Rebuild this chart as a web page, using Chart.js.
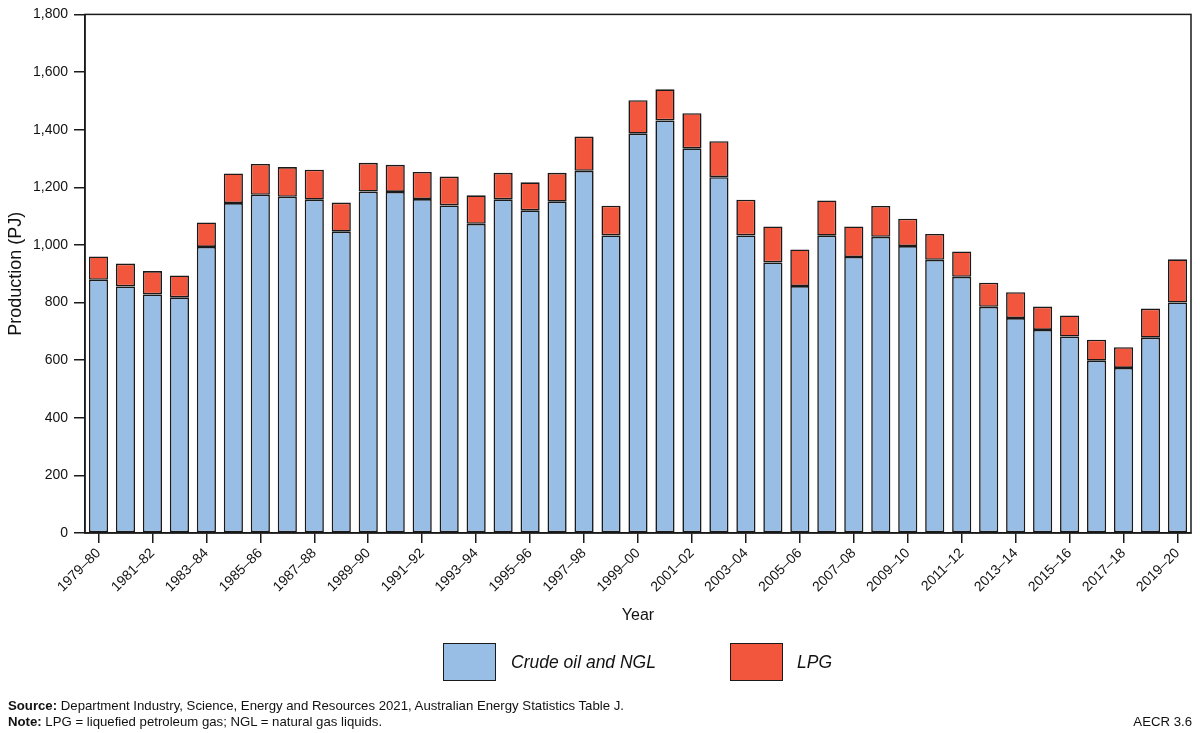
<!DOCTYPE html>
<html>
	<head>
		<title>Crude oil, NGL and LPG production</title>
		<meta charset="UTF-8">
		<script src="https://cdn.jsdelivr.net/npm/chart.js"></script>
		<style>
			body { margin: 0; background: #fff; font-family: "Liberation Sans", Arial, sans-serif; color: #111; }
			#wrap { position: relative; width: 1200px; height: 733px; }
			#legend .box { position: absolute; width: 51px; height: 36px; border: 1.5px solid #1a1a1a; }
			#legend .txt { position: absolute; font-style: italic; font-size: 17.5px; line-height: 20px; }
			.foot { position: absolute; font-size: 13.2px; line-height: 15px; }
		</style>
	</head>
	<body>
		<div id="wrap">
			<canvas id="myChart" width="1200" height="733"></canvas>
			<div id="legend"></div>
			<div class="foot" style="left:8px; top:698px;"><b>Source:</b> Department Industry, Science, Energy and Resources 2021, Australian Energy Statistics Table J.</div>
			<div class="foot" style="left:8px; top:714px;"><b>Note:</b> LPG = liquefied petroleum gas; NGL = natural gas liquids.</div>
			<div class="foot" style="right:8px; top:714px;">AECR 3.6</div>
		</div>
		<script>
			const years = ['1979–80', '1980–81', '1981–82', '1982–83', '1983–84', '1984–85', '1985–86', '1986–87', '1987–88', '1988–89',
				'1989–90', '1990–91', '1991–92', '1992–93', '1993–94', '1994–95', '1995–96', '1996–97', '1997–98', '1998–99',
				'1999–00', '2000–01', '2001–02', '2002–03', '2003–04', '2004–05', '2005–06', '2006–07', '2007–08', '2008–09',
				'2009–10', '2010–11', '2011–12', '2012–13', '2013–14', '2014–15', '2015–16', '2016–17', '2017–18', '2018–19', '2019–20'];

			// PJ
			const crudeOil = [879, 856, 828, 818, 993, 1145, 1174, 1167, 1157, 1046,
				1185, 1184, 1159, 1137, 1073, 1158, 1120, 1150, 1257, 1033,
				1386, 1432, 1335, 1235, 1033, 939, 857, 1032, 958, 1028,
				996, 948, 889, 785, 746, 705, 682, 598, 573, 678, 800];
			const lpg = [81, 79, 81, 76, 85, 103, 107, 103, 104, 101,
				100, 94, 94, 100, 99, 92, 97, 100, 119, 103,
				116, 108, 122, 125, 124, 125, 127, 122, 106, 107,
				95, 90, 88, 84, 90, 81, 73, 73, 72, 101, 150];

			const yTicks = [0, 200, 400, 600, 800, 1000, 1200, 1400, 1600, 1800];

			const blue = '#99bee6';
			const red = '#f2573d';
			const ink = '#1a1a1a';

			// box round the plot area
			const frame = {
				id: 'frame',
				afterDraw(chart) {
					const a = chart.chartArea;
					const ctx = chart.ctx;
					ctx.save();
					ctx.strokeStyle = ink;
					ctx.lineWidth = 1.5;
					ctx.strokeRect(a.left, a.top, a.right - a.left, a.bottom - a.top);
					ctx.restore();
				}
			};

			var ctx = document.getElementById('myChart').getContext('2d');
			var chart = new Chart(ctx, {
				type: 'bar',
				data: {
					labels: years,
					datasets: [{
						label: 'Crude oil and NGL',
						data: crudeOil,
						backgroundColor: blue,
						borderColor: ink,
						borderWidth: 1.6,
						borderSkipped: false
					}, {
						label: 'LPG',
						data: lpg,
						backgroundColor: red,
						borderColor: ink,
						borderWidth: 1.6,
						borderSkipped: false
					}]
				},
				options: {
					responsive: false,
					animation: false,
					layout: { padding: { top: 14, right: 9, bottom: 108, left: 5 } },
					datasets: { bar: { categoryPercentage: 1, barPercentage: 0.71 } },
					plugins: {
						legend: { display: false },
						tooltip: { enabled: false }
					},
					scales: {
						x: {
							stacked: true,
							afterFit(scale) { scale.height = 92; },
							grid: {
								drawOnChartArea: false,
								offset: false,
								tickLength: 10,
								lineWidth: 1.5,
								tickColor: c => c.index % 2 === 0 ? ink : 'rgba(0,0,0,0)'
							},
							border: { color: ink, width: 1.5 },
							ticks: {
								autoSkip: false,
								maxRotation: 45,
								minRotation: 45,
								padding: 2,
								color: '#111',
								font: { family: 'Liberation Sans', size: 14 },
								callback: function(value, index) {
									return index % 2 === 0 ? this.getLabelForValue(value) : '';
								}
							},
							title: {
								display: true,
								text: 'Year',
								color: '#111',
								padding: 0,
								font: { family: 'Liberation Sans', size: 16 }
							}
						},
						y: {
							stacked: true,
							min: 0,
							max: 1800,
							afterFit(scale) { scale.width = 80; },
							afterBuildTicks(scale) { scale.ticks = yTicks.map(v => ({ value: v })); },
							grid: {
								drawOnChartArea: false,
								tickLength: 11,
								lineWidth: 1.5,
								tickColor: ink
							},
							border: { color: ink, width: 1.5 },
							ticks: {
								padding: 6,
								color: '#111',
								font: { family: 'Liberation Sans', size: 14 },
								callback: v => v.toLocaleString('en-US')
							},
							title: {
								display: true,
								text: 'Production (PJ)',
								color: '#111',
								padding: 0,
								font: { family: 'Liberation Sans', size: 18 }
							}
						}
					}
				},
				plugins: [frame]
			});

			// legend under the chart, built from the datasets
			const legendPos = [{ box: 443, txt: 511 }, { box: 730, txt: 797 }];
			const legend = document.getElementById('legend');
			chart.data.datasets.forEach(function(ds, i) {
				const b = document.createElement('div');
				b.className = 'box';
				b.style.left = legendPos[i].box + 'px';
				b.style.top = '643px';
				b.style.background = ds.backgroundColor;
				legend.appendChild(b);
				const t = document.createElement('div');
				t.className = 'txt';
				t.style.left = legendPos[i].txt + 'px';
				t.style.top = '652px';
				t.textContent = ds.label;
				legend.appendChild(t);
			});
		</script>
	</body>
</html>
